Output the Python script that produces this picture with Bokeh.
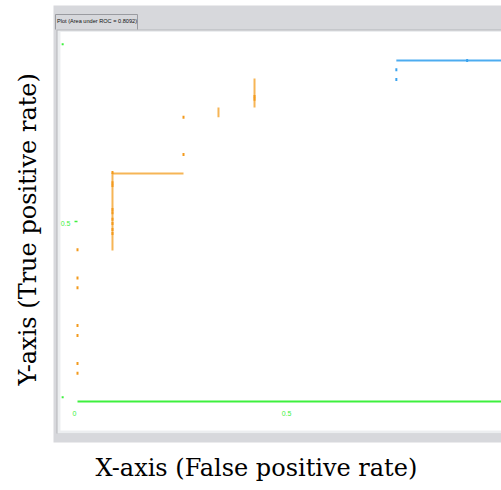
from bokeh.plotting import figure
from bokeh.models import Title, Range1d
from bokeh.core.properties import value
from bokeh.embed import file_html
from bokeh.resources import INLINE

# ---- data ----
title_text = "Plot (Area under ROC = 0.8092)"
x_label = "X-axis (False positive rate)"
y_label = "Y-axis (True positive rate)"

# ROC points, orange threshold class
orange_fpr = [0, 0, 0, 0, 0, 0, 0,
              0.0825, 0.0825, 0.0825, 0.0825, 0.0825, 0.0825, 0.0825, 0.0825, 0.0825,
              0.25, 0.25, 0.4175, 0.4175]
orange_tpr = [0.430, 0.350, 0.322, 0.215, 0.187, 0.108, 0.080,
              0.649, 0.620, 0.612, 0.544, 0.535, 0.516, 0.504, 0.487, 0.476,
              0.805, 0.700, 0.864, 0.856]
# ROC points, blue threshold class
blue_fpr = [0.752, 0.752, 0.919]
blue_tpr = [0.940, 0.912, 0.966]

# connecting segments of the curve
orange_seg_x0 = [0.0825, 0.0825, 0.3325, 0.4175]
orange_seg_y0 = [0.428, 0.646, 0.805, 0.833]
orange_seg_x1 = [0.0825, 0.25, 0.3325, 0.4175]
orange_seg_y1 = [0.649, 0.646, 0.833, 0.915]
blue_seg_x0 = [0.752]
blue_seg_y0 = [0.966]
blue_seg_x1 = [1.0]
blue_seg_y1 = [0.966]

x_tick_values = [0, 0.5]
x_tick_labels = ["0", "0.5"]
y_tick_values = [0.5]
y_tick_labels = ["0.5"]
y_tick_dots = [0, 1]

ORANGE = "#f39a1c"
ORANGE_LINE = "#f5a838"
BLUE = "#3aa3ee"
GREEN = "#3ef03e"
PANEL = "#d7d8dc"

# data range chosen so that x=0 sits a little inside the white area
XMIN, XMAX = -0.0566, 1.0
YMIN, YMAX = -0.1161, 1.1218

p = figure(width=501, height=490, output_backend="svg", toolbar_location=None,
           x_axis_type=None, y_axis_type=None,
           x_range=Range1d(XMIN, XMAX), y_range=Range1d(YMIN, YMAX),
           min_border_left=53, min_border_right=0, min_border_top=5, min_border_bottom=48)
p.grid.visible = False
p.outline_line_color = None
p.background_fill_color = PANEL
p.border_fill_color = "white"

# ---- Weka panel decoration ----
p.quad(left=[-0.0495], right=[XMAX + 0.01], bottom=[-0.0907], top=[1.0538],
       fill_color="#b4b5b9", line_color=None)
p.quad(left=[-0.0472], right=[XMAX + 0.01], bottom=[-0.0907], top=[1.0510],
       fill_color="#eceef0", line_color=None)
p.quad(left=[-0.0401], right=[XMAX + 0.01], bottom=[-0.0822], top=[1.0467],
       fill_color="white", line_color=None)
# tab of the title
p.segment(x0=[-0.0519, 0.1415], y0=[1.0538, 1.0538], x1=[-0.0519, 0.1415], y1=[1.0963, 1.0963],
          line_color="#9a9ba0", line_width=1)
p.segment(x0=[-0.0519], y0=[1.0963], x1=[0.1415], y1=[1.0963], line_color="#9a9ba0", line_width=1)
p.text(x=[-0.0485], y=[1.0790], text=[title_text], text_font=value("Liberation Sans"),
       text_font_size="5.6px", text_color="#111111", text_baseline="middle", text_align="left")

# ---- green axis line, tick labels ----
p.segment(x0=[0], y0=[0], x1=[XMAX], y1=[0], line_color=GREEN, line_width=2)
p.text(x=x_tick_values, y=[0] * len(x_tick_values), text=x_tick_labels, x_offset=-3, y_offset=12,
       text_font=value("Liberation Sans"), text_font_size="7px", text_color=GREEN,
       text_align="center", text_baseline="middle")
p.text(x=[0] * len(y_tick_values), y=y_tick_values, text=y_tick_labels, x_offset=-12, y_offset=-2,
       text_font=value("Liberation Sans"), text_font_size="7px", text_color=GREEN,
       text_align="center", text_baseline="middle")
p.rect(x=[-0.0035] * len(y_tick_values), y=[v + 0.01 for v in y_tick_values], width=3, height=1.5,
       width_units="screen", height_units="screen", fill_color=GREEN, line_color=None)
p.rect(x=[-0.035] * len(y_tick_dots), y=[v + 0.012 for v in y_tick_dots], width=2, height=2,
       width_units="screen", height_units="screen", fill_color=GREEN, line_color=None)

# ---- ROC curve ----
p.segment(x0=orange_seg_x0, y0=orange_seg_y0, x1=orange_seg_x1, y1=orange_seg_y1,
          line_color=ORANGE_LINE, line_width=2, line_alpha=0.85)
p.segment(x0=blue_seg_x0, y0=blue_seg_y0, x1=blue_seg_x1, y1=blue_seg_y1,
          line_color=BLUE, line_width=2, line_alpha=0.9)
p.rect(x=orange_fpr, y=orange_tpr, width=2, height=3, width_units="screen", height_units="screen",
       fill_color=ORANGE, line_color=None)
p.rect(x=blue_fpr, y=blue_tpr, width=2, height=3, width_units="screen", height_units="screen",
       fill_color=BLUE, line_color=None)

# ---- axis titles ----
p.add_layout(Title(text=x_label, align="left", offset=42, standoff=18,
                   text_font="DejaVu Serif", text_font_size="24px",
                   text_font_style="normal", text_color="black"), "below")
p.add_layout(Title(text=y_label, align="left", offset=57, standoff=23,
                   text_font="DejaVu Serif", text_font_size="24px",
                   text_font_style="normal", text_color="black"), "left")

open("out.html", "w").write(file_html(p, INLINE))
